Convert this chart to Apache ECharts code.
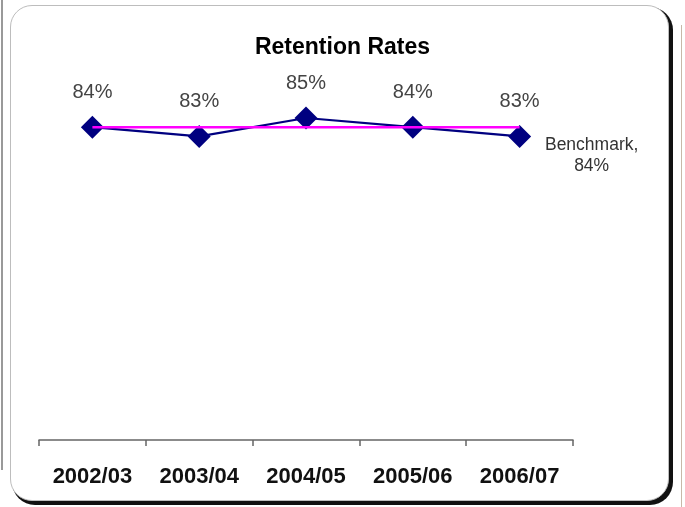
<!DOCTYPE html>
<html>
<head>
<meta charset="utf-8">
<script src="https://cdn.jsdelivr.net/npm/echarts@6/dist/echarts.min.js"></script>
<style>
  html, body { margin: 0; padding: 0; background: #fff; }
  #wrap { position: relative; width: 685px; height: 507px; overflow: hidden; }
  #frame {
    position: absolute; left: 10px; top: 5px; width: 657px; height: 494px;
    border: 1px solid #bdbdbd; border-radius: 22px;
    box-shadow: 3px 3px 0 1px #111;
    background: #fff;
  }
  #edgeL { position: absolute; left: 1px; top: 0; width: 2px; height: 470px; background: #999; }
  #edgeR { position: absolute; left: 681px; top: 25px; width: 1px; height: 482px; background: #c8b8a8; }
  #chart { position: absolute; left: 0; top: 0; width: 685px; height: 507px; }
</style>
</head>
<body>
<div id="wrap">
  <div id="edgeL"></div>
  <div id="edgeR"></div>
  <div id="frame"></div>
  <div id="chart"></div>
</div>
<script>
const categories = ['2002/03', '2003/04', '2004/05', '2005/06', '2006/07'];
const retention = [84, 83, 85, 84, 83];
const benchmark = [84, 84, 84, 84, 84];
const benchmarkLabel = 'Benchmark,\n84%';

const chart = echarts.init(document.getElementById('chart'), null, { renderer: 'canvas' });

const benchData = benchmark.map((v, i) => {
  if (i === benchmark.length - 1) {
    return {
      value: v,
      label: {
        show: true,
        formatter: benchmarkLabel,
        position: 'right',
        align: 'center',
        verticalAlign: 'middle',
        offset: [67, 28],
        fontFamily: 'Liberation Sans, Arial, sans-serif',
        fontSize: 17.5,
        lineHeight: 21,
        color: '#333'
      }
    };
  }
  return v;
});

chart.setOption({
  backgroundColor: 'transparent',
  animation: false,
  title: {
    text: 'Retention Rates',
    left: 'center',
    top: 31,
    textStyle: {
      fontFamily: 'Liberation Sans, Arial, sans-serif',
      fontWeight: 'bold',
      fontSize: 23,
      color: '#000'
    }
  },
  grid: { left: 39, right: 112, top: 72, bottom: 67 },
  xAxis: {
    type: 'category',
    data: categories,
    boundaryGap: true,
    axisLine: { lineStyle: { color: '#666', width: 1.5 } },
    axisTick: { show: true, interval: 0, length: 6, lineStyle: { color: '#666', width: 1.5 } },
    axisLabel: {
      interval: 0,
      margin: 26,
      fontFamily: 'Liberation Sans, Arial, sans-serif',
      fontWeight: 'bold',
      fontSize: 22,
      color: '#111'
    },
    splitLine: { show: false }
  },
  yAxis: {
    type: 'value',
    min: 50,
    max: 90,
    show: false,
    splitLine: { show: false }
  },
  series: [
    {
      name: 'Benchmark',
      type: 'line',
      data: benchData,
      symbol: 'circle',
      symbolSize: 0.1,
      showSymbol: true,
      lineStyle: { color: '#ff00ff', width: 2.5 },
      itemStyle: { color: '#ff00ff' },
      z: 3
    },
    {
      name: 'Retention',
      type: 'line',
      data: retention,
      symbol: 'diamond',
      symbolSize: 23,
      lineStyle: { color: '#000080', width: 2.2 },
      itemStyle: { color: '#000080' },
      label: {
        show: true,
        position: 'top',
        distance: 13,
        formatter: p => p.value + '%',
        fontFamily: 'Liberation Sans, Arial, sans-serif',
        fontSize: 20,
        color: '#444'
      },
      z: 2
    }
  ]
});
</script>
</body>
</html>
